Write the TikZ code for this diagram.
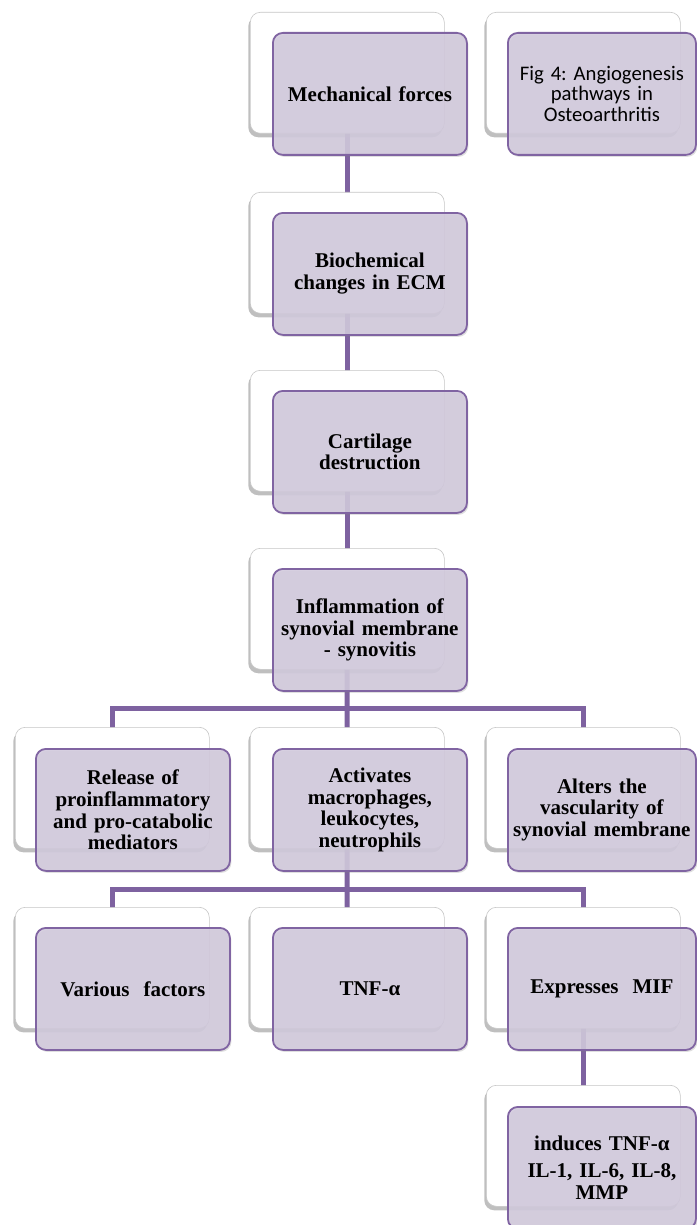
\documentclass[tikz,border=0pt]{standalone}
\usepackage{fontspec}
\setmainfont{Liberation Serif}
\newfontfamily\calibri{Carlito}
\usetikzlibrary{shadows,backgrounds}
\definecolor{pborder}{HTML}{8064A2}
\definecolor{pfill}{HTML}{D2CADD}
\definecolor{pline}{HTML}{7E62A0}
\pgfdeclarehorizontalshading{bevelshade}{100bp}{color(0bp)=(black!35); color(6bp)=(white); color(100bp)=(white)}
\frenchspacing
\begin{document}
\begin{tikzpicture}[x=1pt,y=-1pt,
 back/.style={draw=gray!45, line width=0.6pt, shading=bevelshade, rounded corners=10pt,
   minimum width=194pt, minimum height=121pt, anchor=north west, inner sep=0pt,
   drop shadow={shadow xshift=-2pt,shadow yshift=-4pt,opacity=0.5}},
 front/.style={draw=pborder, line width=1.8pt, fill=pfill, fill opacity=0.88, text opacity=1,
   rounded corners=10pt, minimum width=194pt, minimum height=122pt, anchor=north west,
   inner sep=2pt, align=center, text width=188pt,
   font=\bfseries\fontsize{21}{21.8}\selectfont,
   drop shadow={shadow xshift=1.5pt,shadow yshift=-2pt,opacity=0.25}},
 narrow/.style={minimum width=188pt, text width=184pt},
 conn/.style={draw=pline, line width=5pt}]
\useasboundingbox (0,0) rectangle (696,1225);
% row 1
\node[back] (w1) at (250,12) {};
\node[front] (f1) at (272,32) {Mechanical forces};
\node[back] (wfig) at (486,12) {};
\node[front,narrow,font=\calibri\fontsize{20.7}{20.8}\selectfont] (ffig) at (507,32) {Fig 4: Angiogenesis\\pathways in\\Osteoarthritis};
% row 2
\node[back] (w2) at (250,192) {};
\node[front] (f2) at (272,212) {Biochemical\\changes in ECM};
% row 3
\node[back] (w3) at (250,370) {};
\node[front] (f3) at (272,390) {Cartilage\\destruction};
% row 4
\node[back] (w4) at (250,548) {};
\node[front] (f4) at (272,568) {Inflammation of\\synovial membrane\\- synovitis};
% row 5
\node[back] (w5a) at (15,727) {};
\node[front] (f5a) at (35,748) {Release of\\proinflammatory\\and pro-catabolic\\mediators};
\node[back] (w5b) at (250,727) {};
\node[front] (f5b) at (272,748) {Activates\\macrophages,\\leukocytes,\\neutrophils};
\node[back] (w5c) at (486,727) {};
\node[front,narrow] (f5c) at (507,748) {Alters the\\vascularity of\\synovial membrane};
% row 6
\node[back] (w6a) at (15,907) {};
\node[front] (f6a) at (35,927) {Various\ \ factors};
\node[back] (w6b) at (250,907) {};
\node[front] (f6b) at (272,927) {TNF-α};
\node[back] (w6c) at (486,907) {};
\node[front,narrow] (f6c) at (507,927) {Expresses\ \ MIF};
% row 7
\node[back] (w7) at (486,1085) {};
\node[front,narrow] (f7) at (507,1106) {induces TNF-α\\[5pt]IL-1, IL-6, IL-8,\\MMP};
% connectors
\coordinate (j4) at (347,708);
\coordinate (j5) at (347,889);
\begin{pgfonlayer}{background}
\draw[conn] (w1.center) -- (w2.center);
\draw[conn] (w2.center) -- (w3.center);
\draw[conn] (w3.center) -- (w4.center);
\draw[conn] (w4.center) -- (j4);
\draw[conn] (w5a.center) |- (j4) -| (w5c.center);
\draw[conn] (j4) -- (w5b.center);
\draw[conn] (w5b.center) -- (j5);
\draw[conn] (w6a.center) |- (j5) -| (w6c.center);
\draw[conn] (j5) -- (w6b.center);
\draw[conn] (w6c.center) -- (w7.center);
\end{pgfonlayer}
\end{tikzpicture}
\end{document}
